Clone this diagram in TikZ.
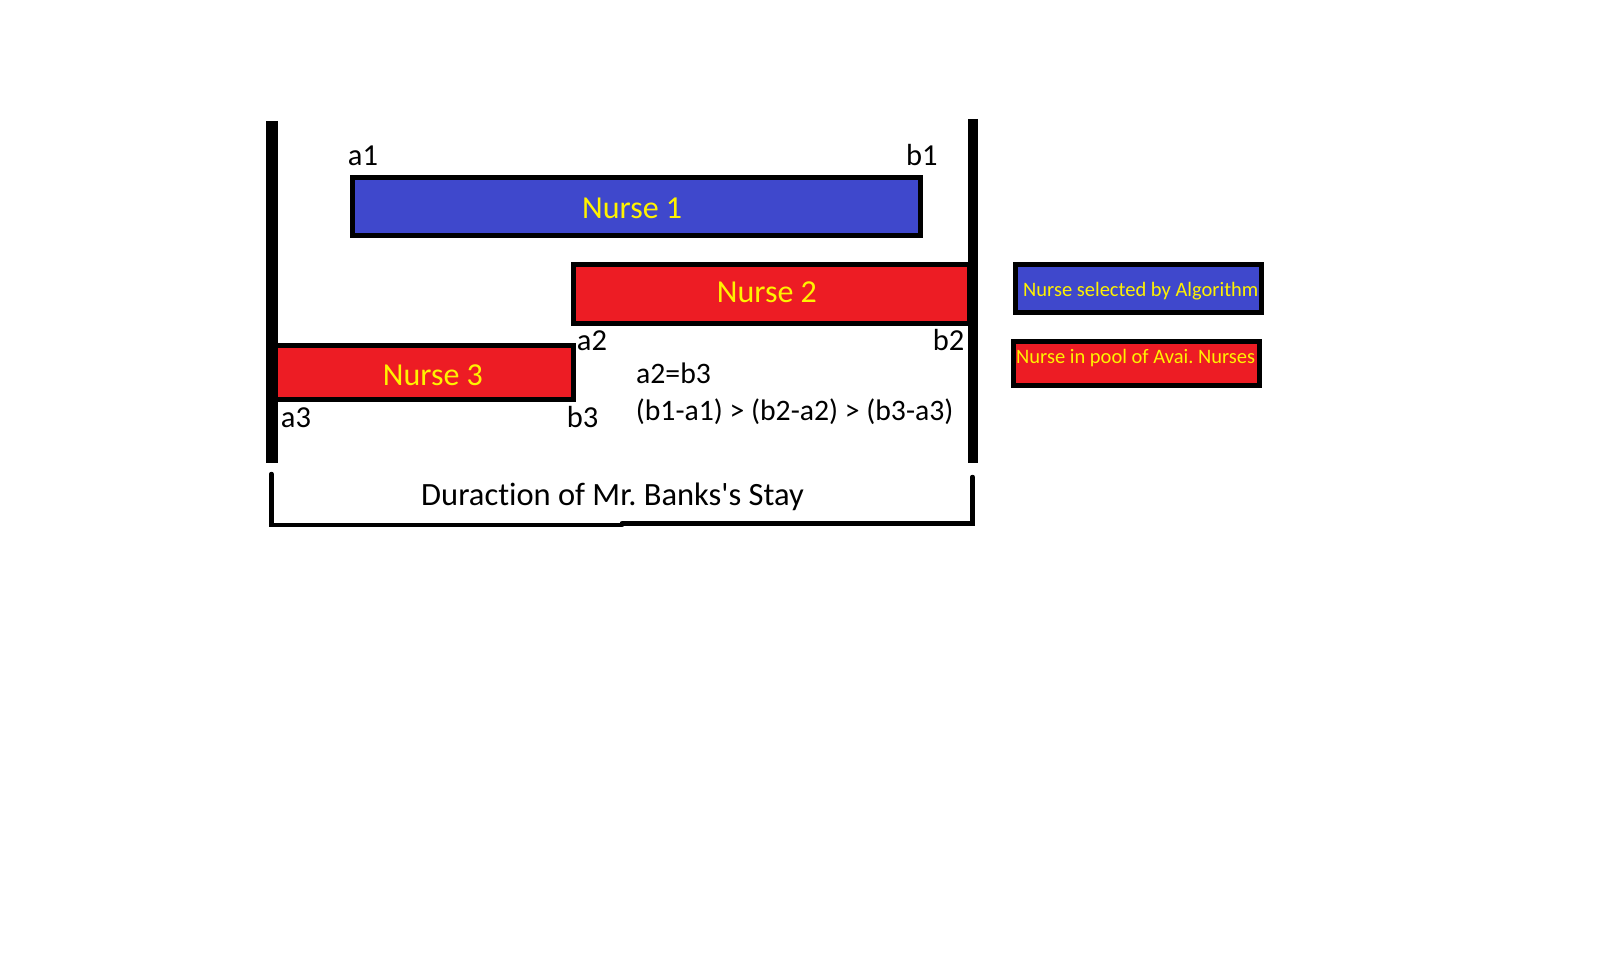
\documentclass[tikz,border=0pt]{standalone}
\usepackage{fontspec}
\defaultfontfeatures{}
\setmainfont{Carlito}[Ligatures={TeXOff,NoCommon}]
\definecolor{nblue}{HTML}{3F48CC}
\definecolor{nred}{HTML}{ED1C24}
\definecolor{nyellow}{HTML}{FFF200}
\frenchspacing
\begin{document}
\begin{tikzpicture}[x=1pt,y=-1pt,
  bar/.style={draw,line width=5pt,inner sep=0pt,outer sep=0pt,anchor=north west},
  bluebar/.style={bar,fill=nblue},
  redbar/.style={bar,fill=nred},
  boxtext/.style={anchor=base west,inner sep=0pt,text=nyellow,font=\fontsize{32}{36}\selectfont},
  lbl/.style={anchor=base west,inner sep=0pt,font=\fontsize{30.5}{34}\selectfont},
  note/.style={anchor=base west,inner sep=0pt,font=\fontsize{29.7}{33}\selectfont},
  legtext/.style={anchor=base west,inner sep=0pt,text=nyellow,font=\fontsize{20.5}{24}\selectfont},
  brack/.style={line width=4.5pt,line cap=round,line join=miter}]
\useasboundingbox (0,0) rectangle (1606,976);
\fill[white] (0,0) rectangle (1606,976);
% bars
\node[bluebar,minimum width=568pt,minimum height=58pt] (n1) at (352.5,177.5) {};
\node[redbar,minimum width=396pt,minimum height=59pt] (n2) at (573.5,264.5) {};
\node[redbar,minimum width=301pt,minimum height=54pt] (n3) at (272.5,345.5) {};
\node[boxtext] (t1) at (582,218.3) {Nurse 1};
\node[boxtext] (t2) at (716.7,302) {Nurse 2};
\node[boxtext] (t3) at (382.7,385) {Nurse 3};
% walls
\coordinate (lt) at (272,121);
\coordinate (lb) at (272,463);
\coordinate (rt) at (973,119);
\coordinate (rb) at (973,463);
\draw[line width=12pt] (lt) -- (lb);
\draw[line width=10pt] (rt) -- (rb);
% labels
\node[lbl] (a1) at (347.7,165.5) {a1};
\node[lbl] (b1) at (906,165.5) {b1};
\node[lbl] (a2) at (576.7,350) {a2};
\node[lbl] (b2) at (932.7,350) {b2};
\node[lbl] (a3) at (280.7,427.5) {a3};
\node[lbl] (b3) at (566.7,427.5) {b3};
\node[note] (eq) at (636,383) {a2=b3};
\node[note] (ineq) at (635.7,420) {(b1-a1) > (b2-a2) > (b3-a3)};
% bracket
\coordinate (k1) at (271.5,474);
\coordinate (k2) at (271.5,525);
\coordinate (k3) at (622,525);
\coordinate (k4) at (622,523.5);
\coordinate (k5) at (972.5,523.5);
\coordinate (k6) at (972.5,477);
\draw[brack] (k1) -- (k2) -- (k3);
\draw[brack] (k4) -- (k5) -- (k6);
\node[anchor=base west,inner sep=0pt,font=\fontsize{32.5}{36}\selectfont] (dur) at (421,505.7) {Duraction of Mr. Banks's Stay};
% legend
\node[bluebar,minimum width=246pt,minimum height=48pt] (lg1) at (1015.5,264.5) {};
\node[redbar,minimum width=246pt,minimum height=44pt] (lg2) at (1013.5,341.5) {};
\node[legtext] (lt1) at (1023,296.7) {Nurse selected by Algorithm};
\node[legtext] (lt2) at (1016,363) {Nurse in pool of Avai. Nurses};
\end{tikzpicture}
\end{document}
